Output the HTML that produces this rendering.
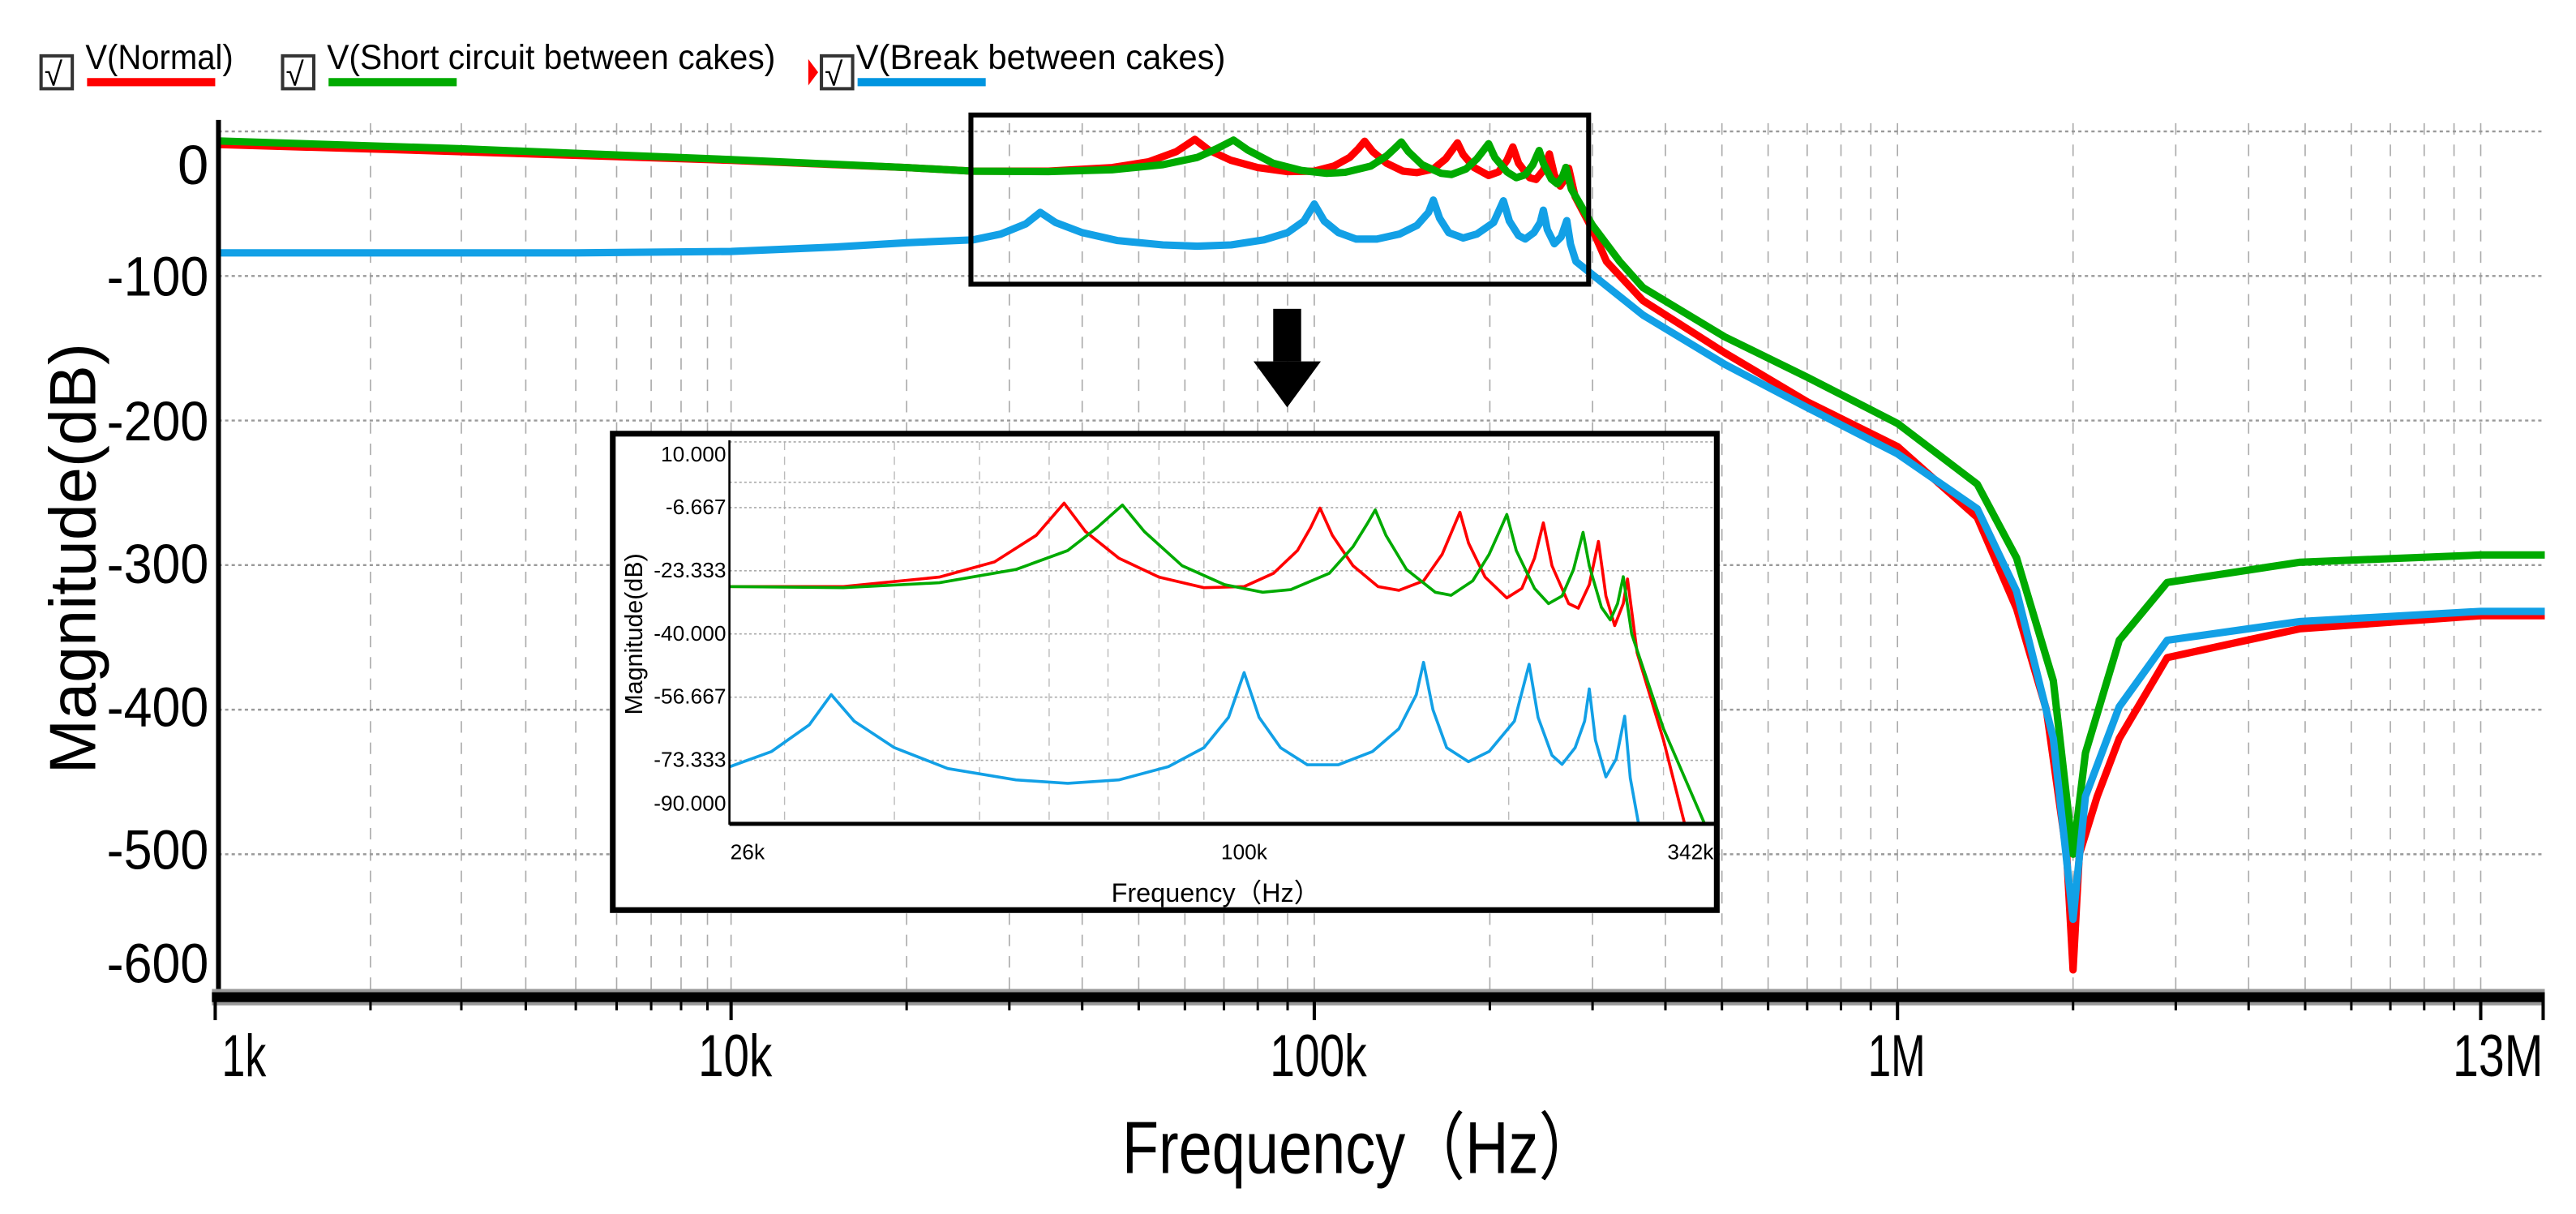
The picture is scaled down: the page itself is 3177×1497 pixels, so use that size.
<!DOCTYPE html>
<html><head><meta charset="utf-8"><style>
html,body{margin:0;padding:0;background:#fff;overflow:hidden;width:3177px;height:1497px;}
svg{display:block;}
text{font-family:"Liberation Sans",sans-serif;}
</style></head><body>
<svg id="chart" xmlns="http://www.w3.org/2000/svg" width="3177" height="1497" viewBox="0 0 1568 739" preserveAspectRatio="none">
<defs>
<clipPath id="mainClip"><rect x="133" y="60" width="1416" height="547"/></clipPath>
<clipPath id="insetClip"><rect x="444" y="268" width="600" height="234"/></clipPath>
</defs>
<g id="legend">
  <g>
    <rect x="25" y="34" width="19" height="20" fill="#fff" stroke="#333" stroke-width="2"/>
    <text x="27" y="52" font-size="20">√</text>
    <text x="52" y="42" font-size="21" textLength="90" lengthAdjust="spacingAndGlyphs">V(Normal)</text>
    <line x1="53" y1="50" x2="131" y2="50" stroke="#f00" stroke-width="5"/>
  </g>
  <g>
    <rect x="172" y="34" width="19" height="20" fill="#fff" stroke="#333" stroke-width="2"/>
    <text x="174" y="52" font-size="20">√</text>
    <text x="199" y="42" font-size="21" textLength="273" lengthAdjust="spacingAndGlyphs">V(Short circuit between cakes)</text>
    <line x1="200" y1="50" x2="278" y2="50" stroke="#00aa00" stroke-width="5"/>
  </g>
  <g>
    <polygon points="492,36 498,44 492,52" fill="#f00"/>
    <rect x="500" y="34" width="19" height="20" fill="#fff" stroke="#333" stroke-width="2"/>
    <text x="502" y="52" font-size="20">√</text>
    <text x="521" y="42" font-size="21" textLength="225" lengthAdjust="spacingAndGlyphs">V(Break between cakes)</text>
    <line x1="522" y1="50" x2="600" y2="50" stroke="#0095e0" stroke-width="5"/>
  </g>
</g>
<g id="mainGrid"></g>
<g id="mainCurves" clip-path="url(#mainClip)"></g>
<g id="mainAxes"></g>
<text x="0" y="0" font-size="40" text-anchor="middle" transform="translate(58,340) rotate(-90)">Magnitude(dB)</text>
<text x="683" y="714" font-size="45" textLength="290" lengthAdjust="spacingAndGlyphs" font-family="Liberation Sans, Noto Sans CJK SC, sans-serif">Frequency（Hz）</text>
<rect x="591" y="70" width="376" height="103" fill="none" stroke="#000" stroke-width="3"/>
<g>
  <rect x="775" y="188" width="17" height="32" fill="#000"/>
  <polygon points="763,220 804,220 783.5,248" fill="#000"/>
</g>
<g id="inset">
  <rect x="373" y="264" width="672" height="290" fill="#fff" stroke="#000" stroke-width="3.5"/>
  <g id="insetGrid"></g>
  <g id="insetCurves" clip-path="url(#insetClip)"></g>
  <g id="insetAxes"></g>
  <text font-size="15" text-anchor="middle" transform="translate(391,386) rotate(-90)">Magnitude(dB)</text>
  <text x="740" y="549" font-size="16" text-anchor="middle" font-family="Liberation Sans, Noto Sans CJK SC, sans-serif">Frequency（Hz）</text>
</g>
</svg>
<script>
// ---- data (frequency in Hz, magnitude in dB) ----
const normalFreq = [1e3,3e3,1e4,2e4,26e3,35e3,45e3,52e3,58e3,62.4e3,66e3,72e3,80e3,90e3,100e3,108e3,115e3,119e3,122e3,126e3,133e3,142e3,150e3,160e3,168e3,173e3,176e3,180e3,188e3,199e3,207e3,214e3,219e3,224e3,234e3,240e3,247e3,253e3,258e3,264e3,270e3,273e3,280e3,300e3,317e3,366e3,505e3,700e3,1e6,1.37e6,1.6e6,1.8e6,1.95e6,2.0e6,2.05e6,2.2e6,2.4e6,2.9e6,4.9e6,1e7,1.3e7];
const normalDb = [-9,-14,-20,-25,-27.5,-27.5,-25,-21,-14,-5.5,-13,-20,-25,-27.8,-27.5,-24,-18,-12,-6.8,-14,-22,-27.5,-28.5,-26,-19,-12,-7.9,-16,-25,-30.5,-28,-20,-10.7,-22,-32,-33.2,-27,-15.6,-30,-37.8,-32,-25.5,-45,-68,-90,-117,-153,-187,-218,-267,-330,-400,-500,-580,-500,-460,-420,-364,-344,-335,-335];
const shortFreq = [1e3,3e3,1e4,2e4,26e3,35e3,45e3,55e3,63e3,68e3,72.7e3,77e3,85e3,95e3,105e3,113e3,125e3,133e3,138e3,141e3,145e3,153e3,165e3,172e3,182e3,190e3,196e3,199e3,204e3,214e3,222e3,230e3,237e3,243e3,247e3,255e3,261e3,266e3,270e3,276e3,300e3,334e3,366e3,505e3,700e3,1e6,1.37e6,1.6e6,1.85e6,2.0e6,2.1e6,2.4e6,2.9e6,4.9e6,1e7,1.3e7];
const shortDb = [-6.5,-12,-19.5,-25,-27.5,-27.8,-26.5,-23,-18,-12,-6,-13,-22,-27,-29,-28.3,-24,-17,-11,-7.3,-14,-23,-29,-29.8,-26,-19,-12,-8.5,-18,-28,-32,-30,-23,-13.2,-22,-33,-36.3,-32,-24.9,-40,-65,-90,-108,-142,-170,-202,-244,-295,-380,-500,-430,-352,-312,-298,-293,-293];
const breakFreq = [1e3,5e3,1e4,15e3,20e3,26e3,29e3,32e3,33.9e3,36e3,40e3,46e3,55e3,63e3,72e3,82e3,90e3,96e3,100e3,104e3,110e3,118e3,128e3,140e3,150e3,157e3,160e3,164e3,170e3,180e3,190e3,203e3,211e3,216e3,224e3,230e3,238e3,244e3,247e3,251e3,258e3,265e3,271e3,275e3,281e3,366e3,505e3,700e3,1e6,1.37e6,1.6e6,1.85e6,2.0e6,2.1e6,2.4e6,2.9e6,4.9e6,1e7,1.3e7];
const breakDb = [-84,-84,-83,-80,-77,-75,-71,-64,-56,-63,-70,-75.5,-78.5,-79.4,-78.5,-75,-70,-62,-50.2,-62,-70,-74.5,-74.5,-71,-65,-56,-47.5,-60,-70,-73.7,-71,-63,-48,-62,-72,-74.4,-70,-63,-54.5,-68,-77.7,-73,-61.7,-78,-90,-127,-161,-191,-223,-261,-318,-420,-545,-460,-398,-352,-339,-332,-332];
const mainYTicks = [0,-100,-200,-300,-400,-500,-600];
const mainXTickVals = [1e3,1e4,1e5,1e6,1.3e7];
const mainXTickLabels = ["1k","10k","100k","1M","13M"];
const insetYTicks = [10,-6.667,-23.333,-40,-56.667,-73.333,-90];
const insetYTickLabels = ["10.000","-6.667","-23.333","-40.000","-56.667","-73.333","-90.000"];
const insetXTickVals = [26e3,1e5,342e3];
const insetXTickLabels = ["26k","100k","342k"];

const NS = "http://www.w3.org/2000/svg";
function mk(tag, attrs, parent){const e=document.createElementNS(NS,tag);for(const k in attrs)e.setAttribute(k,attrs[k]);parent.appendChild(e);return e;}

const decadeX=[131,445,800,1155,1510];
function mx(f){const l=Math.log10(f)-3;let i=Math.min(Math.floor(l),3);if(i<0)i=0;return decadeX[i]+(l-i)*(decadeX[i+1]-decadeX[i]);}
function my(v){return 80-v*0.88;}
function ix(f){return 757.3+535*Math.log10(f/1e5);}
function iy(v){return 385.9-(v+40)*2.308;}

const mg=document.getElementById('mainGrid');
for(let d=3;d<=7;d++){for(let m=1;m<=9;m++){const f=m*Math.pow(10,d);if(f<=1e3||f>1.3e7)continue;
  const gl=mk('line',{x1:mx(f),y1:75,x2:mx(f),y2:605,stroke:'#aaa','stroke-width':0.8,'stroke-dasharray':'7,6'},mg);
  
  }}
[0,-100,-200,-300,-400,-500].forEach(v=>{
  const gl=mk('line',{x1:133,y1:my(v),x2:1549,y2:my(v),stroke:'#999','stroke-width':1.2,'stroke-dasharray':'2,2'},mg);
  
  });

const ma=document.getElementById('mainAxes');
mk('line',{x1:133,y1:73,x2:133,y2:608,stroke:'#000','stroke-width':3},ma);
mk('rect',{x:129,y:602,width:1420,height:10,fill:'#999'},ma);
mk('rect',{x:129,y:604,width:1420,height:6,fill:'#000'},ma);
for(let d=3;d<=7;d++){for(let m=1;m<=9;m++){const f=m*Math.pow(10,d);if(f<1e3||f>1.3e7)continue;
  mk('line',{x1:mx(f),y1:608,x2:mx(f),y2:m===1?621:615,stroke:'#000','stroke-width':m===1?2:1.5},ma);}}
mk('line',{x1:1548,y1:608,x2:1548,y2:621,stroke:'#000','stroke-width':2},ma);
const yLabelY={"0":112,"-100":180,"-200":268,"-300":355,"-400":442,"-500":529,"-600":598};
mainYTicks.forEach(v=>{
  const s=String(v);
  const attrs={x:127,y:yLabelY[s],'font-size':34,'text-anchor':'end'};
  if(s.length>1){attrs.textLength=62;attrs.lengthAdjust='spacingAndGlyphs';}
  const t=mk('text',attrs,ma);
  t.textContent=s;
  
  });
const xLabLeft=[135,425,773,1137,1493];
const xLabW=[27,45,59,35,55];
mainXTickVals.forEach((f,i)=>{
  const t=mk('text',{x:xLabLeft[i],y:655,'font-size':36,textLength:xLabW[i],lengthAdjust:'spacingAndGlyphs'},ma);
  t.textContent=mainXTickLabels[i];
  
  });

function pathD(fr,db,fx,fy,lo,hi){const pts=[];fr.forEach((f,i)=>{if(f>=lo&&f<=hi)pts.push((pts.length?'L':'M')+fx(f).toFixed(2)+','+fy(db[i]).toFixed(2));});return pts.join(' ');}
const series=[[normalFreq,normalDb,'#f00','normal'],[shortFreq,shortDb,'#00aa00','short-circuit'],[breakFreq,breakDb,'#12a0e6','break']];
const mc=document.getElementById('mainCurves');
series.forEach(s=>{
  const p=mk('path',{d:pathD(s[0],s[1],mx,my,1e3,1.3e7),fill:'none',stroke:s[2],'stroke-width':4.5,'stroke-linejoin':'round'},mc);
  
  });

const ig=document.getElementById('insetGrid');
[30e3,40e3,50e3,60e3,70e3,80e3,90e3,200e3,300e3].forEach(f=>{
  const gl=mk('line',{x1:ix(f),y1:269,x2:ix(f),y2:501,stroke:'#bbb','stroke-width':0.7,'stroke-dasharray':'5,4'},ig);
  
  });
[10,0,-6.667,-23.333,-40,-56.667,-73.333].forEach(v=>{
  const y=iy(v);
  const gl=mk('line',{x1:444,y1:v===10?269:y,x2:1044,y2:v===10?269:y,stroke:'#aaa','stroke-width':0.8,'stroke-dasharray':'1.5,1.5'},ig);
  
  });
const ic=document.getElementById('insetCurves');
series.forEach(s=>{
  const p=mk('path',{d:pathD(s[0],s[1],ix,iy,2e4,4e5),fill:'none',stroke:s[2],'stroke-width':1.8,'stroke-linejoin':'round'},ic);
  
  });
const ia=document.getElementById('insetAxes');
mk('line',{x1:444,y1:268,x2:444,y2:502,stroke:'#000','stroke-width':1.3},ia);
mk('line',{x1:444,y1:501.5,x2:1045,y2:501.5,stroke:'#000','stroke-width':2.5},ia);
insetYTicks.forEach((v,i)=>{
  const y=i===0?281:(i===6?iy(v)-8:iy(v)+4);
  const t=mk('text',{x:442,y:y,'font-size':13,'text-anchor':'end'},ia);
  t.textContent=insetYTickLabels[i];
  
  });
insetXTickVals.forEach((f,i)=>{
  const x=i===0?455:(i===2?1029:ix(f));
  const t=mk('text',{x:x,y:523,'font-size':13,'text-anchor':'middle'},ia);
  t.textContent=insetXTickLabels[i];
  
  });
</script>
</body></html>
